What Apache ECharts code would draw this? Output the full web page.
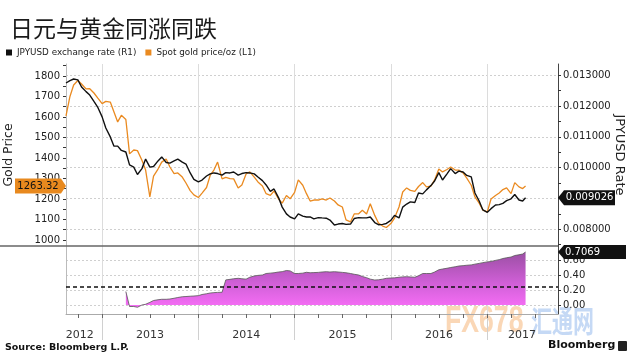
<!DOCTYPE html>
<html><head><meta charset="utf-8">
<script src="https://cdn.jsdelivr.net/npm/echarts@6/dist/echarts.min.js"></script>
<style>html,body{margin:0;padding:0;background:#fff}#c{width:630px;height:360px}</style>
</head><body><div id="c"></div>
<script>
const titleText = '日元与黄金同涨同跌';
const legendNames = ['JPYUSD exchange rate (R1)', 'Spot gold price/oz (L1)'];
const dates = [
 '2012-08-17','2012-09-01','2012-09-15','2012-10-01','2012-10-15','2012-11-01','2012-11-15','2012-12-01','2012-12-15',
 '2013-01-01','2013-01-15','2013-02-01','2013-02-15','2013-03-01','2013-03-15','2013-04-01','2013-04-15','2013-05-01','2013-05-15','2013-06-01','2013-06-15',
 '2013-07-01','2013-07-15','2013-08-01','2013-08-15','2013-09-01','2013-09-15','2013-10-01','2013-10-15','2013-11-01','2013-11-15','2013-12-01','2013-12-15',
 '2014-01-01','2014-01-15','2014-02-01','2014-02-15','2014-03-01','2014-03-15','2014-04-01','2014-04-15','2014-05-01','2014-05-15','2014-06-01','2014-06-15',
 '2014-07-01','2014-07-15','2014-08-01','2014-08-15','2014-09-01','2014-09-15','2014-10-01','2014-10-15','2014-11-01','2014-11-15','2014-12-01','2014-12-15',
 '2015-01-01','2015-01-15','2015-02-01','2015-02-15','2015-03-01','2015-03-15','2015-04-01','2015-04-15','2015-05-01','2015-05-15','2015-06-01','2015-06-15',
 '2015-07-01','2015-07-15','2015-08-01','2015-08-15','2015-09-01','2015-09-15','2015-10-01','2015-10-15','2015-11-01','2015-11-15','2015-12-01','2015-12-15',
 '2016-01-01','2016-01-15','2016-02-01','2016-02-15','2016-03-01','2016-03-15','2016-04-01','2016-04-15','2016-05-01','2016-05-15','2016-06-01','2016-06-15',
 '2016-07-01','2016-07-15','2016-08-01','2016-08-15','2016-09-01','2016-09-15','2016-10-01','2016-10-15','2016-11-01','2016-11-15','2016-12-01','2016-12-15',
 '2017-01-01','2017-01-15','2017-02-01','2017-02-15','2017-03-01','2017-03-15','2017-04-01','2017-04-15','2017-05-01','2017-05-15','2017-05-26'
];
const goldValues = [
 1605,1700,1756,1778,1761,1737,1738,1717,1693,
 1665,1676,1673,1624,1576,1608,1588,1420,1439,1436,1389,1341,
 1210,1312,1346,1380,1395,1356,1324,1327,1307,1278,1241,1220,
 1207,1229,1256,1316,1341,1380,1298,1305,1299,1298,1254,1268,
 1322,1332,1307,1283,1263,1226,1218,1239,1200,1180,1217,1201,
 1232,1293,1267,1226,1190,1195,1195,1201,1195,1205,1190,1171,
 1161,1098,1088,1127,1128,1145,1127,1177,1120,1083,1068,1061,
 1080,1107,1161,1234,1254,1242,1237,1261,1280,1259,1263,1293,
 1346,1332,1344,1356,1341,1341,1327,1302,1267,1210,1180,1146,
 1137,1200,1217,1229,1246,1254,1226,1280,1259,1251,1263.32
];
const jpyValues = [
 0.01275,0.01283,0.01288,0.01285,0.01262,0.01247,0.01236,0.01215,0.01197,
 0.01165,0.01129,0.01100,0.01070,0.01070,0.01056,0.01051,0.01009,0.01002,0.00978,0.00997,0.01028,
 0.01002,0.01004,0.01022,0.01035,0.01017,0.01015,0.01022,0.01028,0.01018,0.01012,0.00983,0.00962,
 0.00954,0.00960,0.00973,0.00980,0.00983,0.00981,0.00976,0.00984,0.00983,0.00986,0.00976,0.00981,
 0.00984,0.00983,0.00980,0.00970,0.00958,0.00944,0.00923,0.00931,0.00903,0.00872,0.00850,0.00840,
 0.00834,0.00850,0.00843,0.00840,0.00840,0.00834,0.00838,0.00837,0.00836,0.00830,0.00814,0.00817,
 0.00819,0.00816,0.00817,0.00835,0.00838,0.00837,0.00837,0.00840,0.00822,0.00815,0.00816,0.00819,
 0.00829,0.00845,0.00837,0.00872,0.00882,0.00889,0.00887,0.00918,0.00915,0.00928,0.00942,0.00957,
 0.00984,0.00960,0.00980,0.00997,0.00981,0.00989,0.00986,0.00975,0.00970,0.00918,0.00892,0.00863,
 0.00855,0.00867,0.00879,0.00880,0.00884,0.00893,0.00899,0.00913,0.00895,0.00892,0.009026
];
const corrValues = [
 null,null,null,null,null,null,null,null,null,
 null,null,null,null,null,null,0.18,-0.02,-0.02,-0.03,0.0,0.01,
 0.035,0.06,0.07,0.076,0.076,0.08,0.09,0.10,0.11,0.113,0.117,0.12,
 0.125,0.14,0.15,0.16,0.165,0.168,0.17,0.335,0.342,0.35,0.356,0.35,
 0.345,0.37,0.387,0.395,0.40,0.42,0.425,0.43,0.44,0.445,0.46,0.455,
 0.42,0.42,0.425,0.436,0.43,0.432,0.435,0.44,0.444,0.44,0.444,0.44,
 0.435,0.43,0.42,0.41,0.40,0.38,0.364,0.345,0.333,0.336,0.345,0.356,
 0.36,0.362,0.37,0.375,0.377,0.374,0.37,0.39,0.42,0.42,0.42,0.44,
 0.47,0.48,0.49,0.50,0.51,0.52,0.525,0.53,0.535,0.545,0.555,0.565,
 0.575,0.58,0.595,0.605,0.62,0.63,0.64,0.66,0.67,0.68,0.7069
];
const goldLabelTicks = [1000,1100,1200,1300,1400,1500,1600,1700,1800];
const goldMinorTicks = [1000,1050,1100,1150,1200,1250,1300,1350,1400,1450,1500,1550,1600,1650,1700,1750,1800,1850];
const jpyLabelTicks = [0.008,0.009,0.010,0.011,0.012,0.013];
const jpyMinorTicks = [0.0075,0.008,0.0085,0.009,0.0095,0.010,0.0105,0.011,0.0115,0.012,0.0125,0.013];
const corrTicks = [0,0.2,0.4,0.6];
const yearStarts = ['2013-01-01','2014-01-01','2015-01-01','2016-01-01','2017-01-01'];
const quarterStarts = ['2012-10-01','2013-01-01','2013-04-01','2013-07-01','2013-10-01','2014-01-01','2014-04-01','2014-07-01','2014-10-01',
 '2015-01-01','2015-04-01','2015-07-01','2015-10-01','2016-01-01','2016-04-01','2016-07-01','2016-10-01','2017-01-01','2017-04-01','2017-07-01'];
const yearLabelDates = ['2012-10-08','2013-07-02','2014-07-02','2015-07-02','2016-07-02','2017-05-12'];
const axisStart = '2012-08-17', axisEnd = '2017-09-26';
const goldLast = 1263.32, jpyLast = 0.009026, corrLast = 0.7069;
const corrThreshold = 0.24;

const t = s => Date.parse(s + 'T00:00:00Z');
const xMin = t(axisStart), xMax = t(axisEnd);
const goldData = dates.map((d, i) => [t(d), goldValues[i]]);
const jpyData = dates.map((d, i) => [t(d), jpyValues[i]]);
const corrData = dates.map((d, i) => [t(d), corrValues[i]]).filter(p => p[1] !== null);
const FONT = 'DejaVu Sans';
const ORANGE = '#ea8a20';

const chart = echarts.init(document.getElementById('c'), null, {renderer: 'canvas'});
const baseX = {type: 'value', min: xMin, max: xMax, axisLine: {show: false, onZero: false}, axisLabel: {show: false}, axisTick: {show: false}, splitLine: {show: false}};
chart.setOption({
  animation: false,
  backgroundColor: '#fff',
  textStyle: {fontFamily: FONT},
  title: [
    {text: titleText, left: 5, top: 12, textStyle: {fontFamily: 'Noto Sans CJK SC', fontSize: 23, fontWeight: 'normal', color: '#1a1a1a'}},
    {text: 'Source: Bloomberg L.P.', left: 5, top: 343, padding: 0, textStyle: {fontFamily: FONT, fontSize: 9.5, fontWeight: 'bold', color: '#111'}},
    {text: 'Bloomberg', left: 548, top: 340, padding: 0, textStyle: {fontFamily: FONT, fontSize: 11, fontWeight: 'bold', color: '#111'}}
  ],
  legend: {
    data: legendNames, left: 6, top: 48, padding: 0, itemWidth: 6, itemHeight: 6, itemGap: 9, icon: 'rect',
    textStyle: {fontFamily: FONT, fontSize: 8.8, color: '#222'}
  },
  grid: [
    {left: 66, right: 72, top: 64, height: 182, outerBoundsMode: 'none', containLabel: false},
    {left: 66, right: 72, top: 246, height: 68, outerBoundsMode: 'none', containLabel: false}
  ],
  xAxis: [
    Object.assign({}, baseX, {gridIndex: 0, axisTick: {show: false, customValues: yearStarts.map(t)},
      splitLine: {show: true, lineStyle: {color: '#dcdcdc', width: 1}}}),
    Object.assign({}, baseX, {gridIndex: 1, position: 'bottom',
      axisLine: {show: true, onZero: false, lineStyle: {color: '#aaa', width: 1}},
      axisTick: {show: true, customValues: yearStarts.map(t), length: 26, lineStyle: {color: '#d0d0d0'}},
      splitLine: {show: true, lineStyle: {color: '#dcdcdc', width: 1}},
      axisLabel: {show: true, customValues: yearLabelDates.map(t), margin: 16, fontSize: 11, color: '#333', fontFamily: FONT,
        formatter: v => String(new Date(v).getUTCFullYear())}}),
    Object.assign({}, baseX, {gridIndex: 1, position: 'bottom',
      axisTick: {show: true, customValues: quarterStarts.map(t), length: 4, lineStyle: {color: '#666'}}})
  ],
  yAxis: [
    {type: 'value', gridIndex: 0, position: 'left', min: 970.7, max: 1858.5,
      name: 'Gold Price', nameLocation: 'middle', nameGap: 51, nameRotate: 90, nameMoveOverlap: false,
      nameTextStyle: {fontFamily: FONT, fontSize: 12.5, color: '#222'},
      axisLine: {show: true, lineStyle: {color: '#bbb'}},
      axisTick: {show: true, customValues: goldMinorTicks, length: 3, lineStyle: {color: '#333'}},
      axisLabel: {show: true, customValues: goldLabelTicks, margin: 6, fontSize: 10, color: '#222', fontFamily: FONT,
        formatter: v => String(v)},
      splitLine: {show: false}},
    {type: 'value', gridIndex: 0, position: 'right', min: 0.0074578, max: 0.0133669,
      name: 'JPYUSD Rate', nameLocation: 'middle', nameGap: 55, nameRotate: -90, nameMoveOverlap: false,
      nameTextStyle: {fontFamily: FONT, fontSize: 13, color: '#222'},
      axisLine: {show: true, lineStyle: {color: '#444'}},
      axisTick: {show: true, customValues: jpyLabelTicks, length: 3, lineStyle: {color: '#333'}},
      axisLabel: {show: true, customValues: jpyLabelTicks, margin: 5, fontSize: 10, color: '#222', fontFamily: FONT,
        formatter: v => v.toFixed(6)},
      splitLine: {show: true, lineStyle: {color: '#cfcfcf', type: [2, 2], width: 1}}},
    {type: 'value', gridIndex: 0, position: 'right', min: 0.0074578, max: 0.0133669,
      axisLine: {show: false}, axisLabel: {show: false}, splitLine: {show: false},
      axisTick: {show: true, customValues: jpyMinorTicks, length: 3, lineStyle: {color: '#333'}}},
    {type: 'value', gridIndex: 1, position: 'right', min: -0.12, max: 0.7867,
      axisLine: {show: true, lineStyle: {color: '#444'}},
      axisTick: {show: true, customValues: corrTicks, length: 3, lineStyle: {color: '#333'}},
      axisLabel: {show: true, customValues: corrTicks, margin: 5, fontSize: 10, color: '#222', fontFamily: FONT,
        formatter: v => v.toFixed(2)},
      splitLine: {show: true, lineStyle: {color: '#cfcfcf', type: [2, 2], width: 1}}},
    {type: 'value', gridIndex: 1, position: 'left', min: -0.12, max: 0.7867,
      axisLine: {show: true, lineStyle: {color: '#bbb'}}, axisTick: {show: false}, axisLabel: {show: false}, splitLine: {show: false}}
  ],
  series: [
    {name: legendNames[1], type: 'line', xAxisIndex: 0, yAxisIndex: 0, data: goldData, showSymbol: false, symbol: 'none',
      color: ORANGE, lineStyle: {color: ORANGE, width: 1.3}, z: 3,
      markPoint: {silent: true, symbol: 'path://M0,0L46,0L51,7.5L46,15L0,15Z', symbolSize: [51, 15], symbolKeepAspect: false,
        symbolOffset: [-25.5, 0], itemStyle: {color: '#e8891e'},
        label: {show: true, position: 'inside', offset: [-2.5, 0], color: '#111', fontSize: 10, fontFamily: FONT, formatter: () => goldLast.toFixed(2)},
        data: [{coord: [xMin, goldLast], value: goldLast}]}},
    {name: legendNames[0], type: 'line', xAxisIndex: 0, yAxisIndex: 1, data: jpyData, showSymbol: false, symbol: 'none',
      color: '#111', lineStyle: {color: '#111', width: 1.4}, z: 4,
      markPoint: {silent: true, symbol: 'path://M0,7.5L6,0L57,0L57,15L6,15Z', symbolSize: [57, 15], symbolKeepAspect: false,
        symbolOffset: [28.5, 0], itemStyle: {color: '#111'},
        label: {show: true, position: 'inside', offset: [3, 0], color: '#fff', fontSize: 10, fontFamily: FONT, formatter: () => jpyLast.toFixed(6)},
        data: [{coord: [xMax, jpyLast], value: jpyLast}]}},
    {name: 'corr', type: 'line', xAxisIndex: 1, yAxisIndex: 3, data: corrData, showSymbol: false, symbol: 'none',
      color: '#555', lineStyle: {color: '#555', width: 0.8},
      areaStyle: {opacity: 1, color: new echarts.graphic.LinearGradient(0, 0, 0, 1, [
        {offset: 0, color: '#9a4fa3'}, {offset: 0.55, color: '#cf5fd6'}, {offset: 1, color: '#f66ef6'}])},
      markLine: {silent: true, symbol: 'none', label: {show: false},
        lineStyle: {type: [4, 3], color: '#111', width: 1.5}, data: [{yAxis: corrThreshold}]},
      markPoint: {silent: true, symbol: 'path://M0,7L6,0L68,0L68,14L6,14Z', symbolSize: [68, 14], symbolKeepAspect: false,
        symbolOffset: [34, 0], itemStyle: {color: '#111'},
        label: {show: true, position: 'inside', align: 'left', offset: [-27, 0], color: '#fff', fontSize: 10, fontFamily: FONT, formatter: () => corrLast.toFixed(4)},
        data: [{coord: [xMax, corrLast], value: corrLast}]}}
  ],
  graphic: [
    {type: 'line', silent: true, z: 10, shape: {x1: 0, y1: 246, x2: 558, y2: 246}, style: {stroke: '#666', lineWidth: 1.6}},
    {type: 'text', silent: true, z: -1, left: 445, top: 304, scaleX: 0.74,
      style: {text: 'FX678', font: 'bold 36px "Liberation Sans"', fill: 'rgba(246,176,110,0.5)'}},
    {type: 'text', silent: true, z: -1, left: 531, top: 306, scaleX: 0.7,
      style: {text: '汇通网', font: 'bold 30px "Noto Sans CJK SC"', fill: 'rgba(140,180,235,0.5)'}},
    {type: 'rect', silent: true, left: 618, top: 341, shape: {width: 9, height: 10, r: 1}, style: {fill: '#222'}}
  ]
});
</script></body></html>
